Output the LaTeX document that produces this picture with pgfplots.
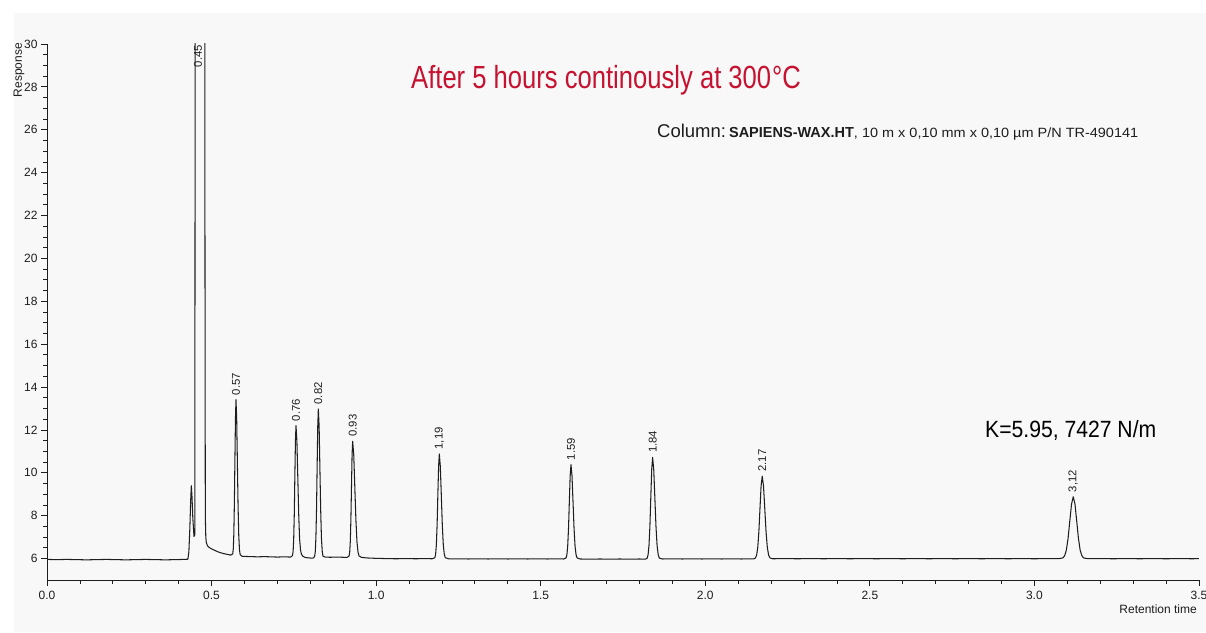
\documentclass[border=0pt]{standalone}
\usepackage{fontspec}
\setmainfont{Liberation Sans}
\newfontfamily\titlefont[FakeStretch=0.8]{Liberation Sans}
\newfontfamily\kfont[FakeStretch=0.9]{Liberation Sans}
\newfontfamily\widefont[FakeStretch=1.08]{Liberation Sans}
\usepackage{pgfplots}
\pgfplotsset{compat=1.18}
\definecolor{bgc}{RGB}{248,248,248}
\definecolor{titlered}{RGB}{198,18,48}
\definecolor{ink}{RGB}{30,30,30}
\begin{document}
\begin{tikzpicture}[x=1pt,y=1pt]
\path[use as bounding box] (0,0) rectangle (1206,632);
\fill[bgc] (14,0) rectangle (1206,619);
\begin{axis}[
  at={(47pt,52pt)}, anchor=south west,
  scale only axis, width=1152pt, height=536pt,
  xmin=0, xmax=3.5, ymin=5, ymax=30,
  axis x line=bottom, axis y line=left,
  axis line style={-, line width=0.8pt, ink},
  tick align=outside,
  major tick length=6pt, minor tick length=4pt,
  xtick={0,0.5,1,1.5,2,2.5,3,3.5}, minor x tick num=4,
  ytick={6,8,10,12,14,16,18,20,22,24,26,28,30}, minor y tick num=3,
  tick style={ink, line width=0.8pt},
  xticklabel style={yshift=-1.5pt, /pgf/number format/.cd, fixed, fixed zerofill, precision=1},
  tick label style={font=\fontsize{12}{12}\selectfont, text=ink},
  /pgf/number format/assume math mode=true,
  clip=true,
]
\addplot[line width=1.05pt, ink, line join=round] coordinates {
(0.000,5.96)(0.030,5.95)(0.060,5.96)(0.090,5.95)(0.120,5.94)(0.150,5.95)(0.180,5.96)(0.210,5.95)(0.240,5.94)(0.270,5.95)(0.300,5.96)(0.330,5.95)(0.360,5.94)(0.390,5.95)(0.415,5.96)(0.428,5.97)
(0.431,6.30)(0.434,7.40)(0.4365,8.70)(0.4385,9.40)(0.4405,8.90)(0.443,7.90)(0.4466,7.03)(0.4490,7.10)
(0.4497,20)(0.4500,35)(0.4650,60)(0.4795,35)(0.4800,20)(0.4810,8.0)(0.4825,7.0)(0.4840,6.75)(0.4870,6.62)(0.490,6.55)(0.500,6.45)(0.510,6.38)(0.520,6.31)(0.530,6.26)(0.540,6.22)(0.550,6.19)(0.558,6.16)
(0.5643,6.22)(0.5660,6.46)(0.5676,7.12)(0.5692,8.50)(0.5709,10.55)(0.5726,12.55)(0.5742,13.41)(0.5763,12.53)(0.5784,10.52)(0.5805,8.47)(0.5826,7.09)(0.5847,6.43)(0.5868,6.19)(0.592,6.11)
(0.600,6.10)(0.620,6.09)(0.640,6.08)(0.660,6.09)(0.680,6.08)(0.700,6.07)(0.720,6.08)(0.740,6.07)
(0.7460,6.14)(0.7478,6.34)(0.7495,6.90)(0.7513,8.06)(0.7530,9.79)(0.7548,11.48)(0.7565,12.20)(0.7593,11.48)(0.7620,9.79)(0.7648,8.06)(0.7675,6.90)(0.7703,6.40)(0.7730,6.20)(0.778,6.10)(0.785,6.05)(0.795,6.03)(0.805,6.02)(0.810,6.03)
(0.8133,6.11)(0.8152,6.34)(0.8170,6.97)(0.8189,8.29)(0.8207,10.25)(0.8226,12.16)(0.8244,12.98)(0.8268,12.16)(0.8291,10.25)(0.8315,8.29)(0.8338,6.97)(0.8362,6.34)(0.8385,6.11)(0.845,6.07)(0.860,6.06)(0.880,6.07)(0.900,6.06)(0.912,6.06)
(0.9179,6.12)(0.9197,6.30)(0.9215,6.79)(0.9233,7.82)(0.9251,9.34)(0.9269,10.83)(0.9287,11.47)(0.9320,10.83)(0.9352,9.34)(0.9385,7.82)(0.9417,6.79)(0.9450,6.30)(0.9482,6.12)(0.955,6.06)(0.970,6.03)
(1.000,6.01)(1.030,6.00)(1.060,5.99)(1.090,6.00)(1.120,5.99)(1.150,6.00)(1.170,5.99)
(1.1785,6.04)(1.1808,6.21)(1.1830,6.65)(1.1853,7.58)(1.1875,8.96)(1.1898,10.30)(1.1920,10.88)(1.1950,10.30)(1.1980,8.96)(1.2010,7.58)(1.2040,6.65)(1.2070,6.21)(1.2100,6.04)(1.220,5.99)
(1.250,5.99)(1.280,5.98)(1.310,5.99)(1.340,5.98)(1.370,5.99)(1.400,5.98)(1.430,5.99)(1.460,5.98)(1.490,5.99)(1.520,5.98)(1.550,5.99)(1.570,5.98)
(1.5770,6.03)(1.5795,6.17)(1.5820,6.57)(1.5845,7.41)(1.5870,8.65)(1.5895,9.86)(1.5920,10.38)(1.5951,9.86)(1.5982,8.65)(1.6013,7.41)(1.6044,6.57)(1.6075,6.17)(1.6106,6.03)(1.620,5.98)
(1.650,5.97)(1.680,5.98)(1.710,5.97)(1.740,5.98)(1.770,5.97)(1.800,5.98)(1.818,5.97)
(1.8235,6.02)(1.8263,6.18)(1.8290,6.61)(1.8318,7.51)(1.8345,8.85)(1.8373,10.16)(1.8400,10.72)(1.8434,10.16)(1.8468,8.85)(1.8502,7.51)(1.8536,6.61)(1.8570,6.18)(1.8604,6.02)(1.870,5.98)
(1.900,5.99)(1.930,5.98)(1.960,5.99)(1.990,5.98)(2.020,5.99)(2.050,5.98)(2.080,5.99)(2.110,5.98)(2.140,5.99)(2.148,5.99)
(2.1526,6.03)(2.1560,6.16)(2.1594,6.51)(2.1628,7.24)(2.1662,8.33)(2.1696,9.39)(2.1730,9.84)(2.1769,9.39)(2.1808,8.33)(2.1847,7.24)(2.1886,6.51)(2.1925,6.16)(2.1964,6.03)(2.205,5.99)
(2.240,6.00)(2.280,5.99)(2.320,6.00)(2.360,5.99)(2.400,6.00)(2.440,5.99)(2.480,6.00)(2.520,5.99)(2.560,6.00)(2.600,5.99)(2.640,6.00)(2.680,5.99)(2.720,6.00)(2.760,5.99)(2.800,6.00)(2.840,5.99)(2.880,6.00)(2.920,5.99)(2.960,6.00)(3.000,5.99)(3.040,6.00)(3.075,6.00)
(3.0865,6.03)(3.0918,6.13)(3.0970,6.39)(3.1023,6.94)(3.1075,7.75)(3.1128,8.54)(3.1180,8.88)(3.1233,8.54)(3.1285,7.75)(3.1338,6.94)(3.1390,6.39)(3.1443,6.13)(3.1495,6.03)(3.160,6.00)
(3.200,6.00)(3.240,5.99)(3.280,6.00)(3.320,5.99)(3.360,6.00)(3.400,5.99)(3.440,6.00)(3.480,5.99)(3.500,6.00)
};
\tikzset{pk/.style={rotate=90, anchor=west, inner xsep=4.4pt, inner ysep=0pt, font=\fontsize{11.3}{11.3}\selectfont, text=ink}}
\node[pk] at (axis cs:0.5742,13.41) {0.57};
\node[pk] at (axis cs:0.7565,12.20) {0.76};
\node[pk] at (axis cs:0.8244,12.98) {0.82};
\node[pk] at (axis cs:0.9287,11.47) {0.93};
\node[pk] at (axis cs:1.1920,10.88) {1,19};
\node[pk] at (axis cs:1.5920,10.38) {1.59};
\node[pk] at (axis cs:1.8400,10.72) {1.84};
\node[pk] at (axis cs:2.1730,9.84) {2.17};
\node[pk] at (axis cs:3.1180,8.88) {3,12};
\node[rotate=90, anchor=east, inner xsep=1pt, inner ysep=0pt, font=\fontsize{11.3}{11.3}\selectfont, text=ink] at (axis cs:0.4588,30) {0.45};
\end{axis}
\node[rotate=90, anchor=east, inner sep=0pt, font=\fontsize{12}{12}\selectfont, text=ink] at (19,589) {Response};
\node[anchor=east, inner sep=0pt, font=\fontsize{12}{12}\selectfont, text=ink] at (1197,23) {Retention time};
\node[anchor=base west, inner sep=0pt, text=titlered] at (411,543) {\titlefont\fontsize{32}{32}\selectfont After 5 hours continously at 300\kern1pt°C};
\node[anchor=base west, inner sep=0pt, text=ink] at (657,494) {{\fontsize{18.5}{18.5}\selectfont Column:}\hspace{3pt}{\fontsize{14.5}{14.5}\selectfont\bfseries SAPIENS-WAX.HT}{\widefont\fontsize{13.4}{13.4}\selectfont , 10 m x 0,10 mm x 0,10 µm P/N TR-490141}};
\node[anchor=base west, inner sep=0pt, text=black] at (985,195) {\kfont\fontsize{23.5}{23.5}\selectfont K=5.95, 7427 N/m};
\end{tikzpicture}
\end{document}
